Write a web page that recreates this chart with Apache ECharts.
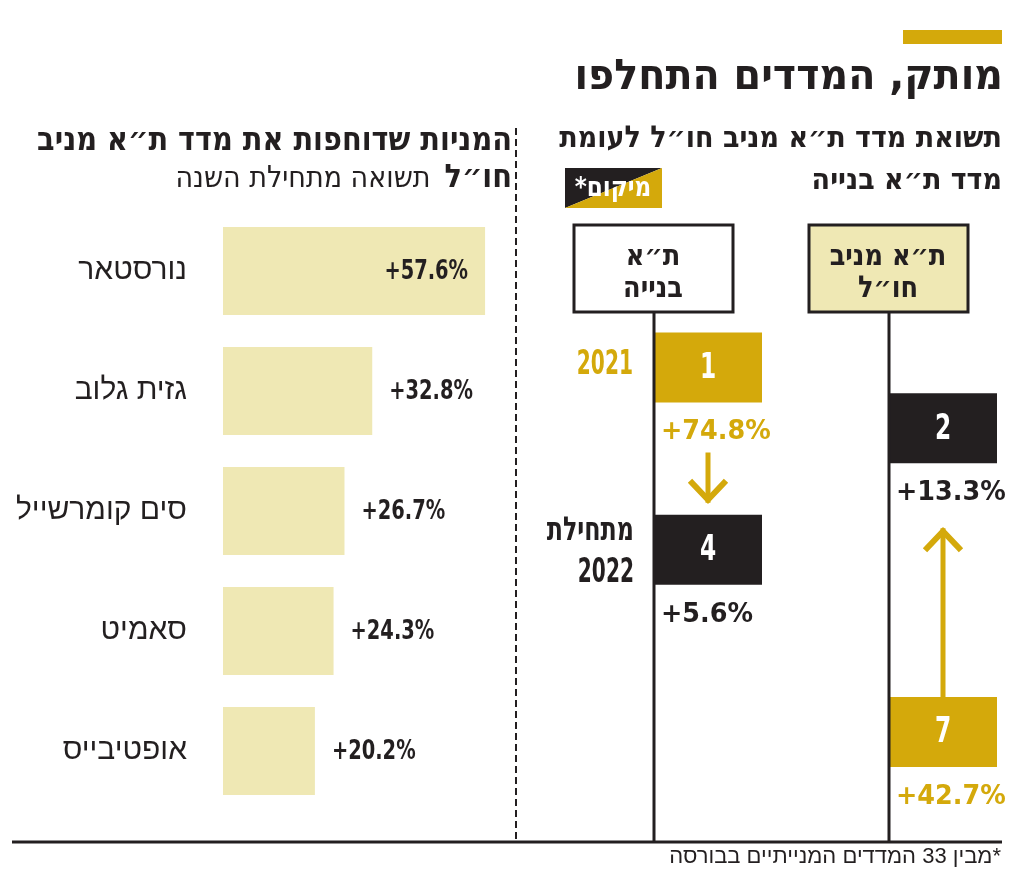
<!DOCTYPE html>
<html><head><meta charset="utf-8">
<script src="https://cdn.jsdelivr.net/npm/echarts@6/dist/echarts.min.js"></script>
<style>html,body{margin:0;padding:0;background:#fff}#c{width:1024px;height:877px}</style>
</head><body><div id="c"></div>
<script>
// ---- data ----
const barCategories = ['נורסטאר', 'גזית גלוב', 'סים קומרשייל', 'סאמיט', 'אופטיבייס'];
const barValues = [57.6, 32.8, 26.7, 24.3, 20.2];
const indexNames = ['ת״א\nבנייה', 'ת״א מניב\nחו״ל'];
const rank2021 = [1, 7];
const rank2022 = [4, 2];
const return2021 = [74.8, 42.7];
const return2022 = [5.6, 13.3];
const periodLabels = ['2021', 'מתחילת\n2022'];

// ---- styles ----
const GOLD = '#d4a90b', INK = '#231f20', BEIGE = '#efe8b4';
const HEB = '"DejaVu Sans Condensed", "DejaVu Sans", sans-serif';
const HEBR = '"Liberation Sans", "DejaVu Sans", sans-serif';
const GEO = '"DejaVu Sans", sans-serif';
const pct = v => '+' + v.toFixed(1) + '%';
const maxBar = Math.max(...barValues);

// text element helper (anchored at x,y, optional horizontal squeeze)
function txt(x, y, text, st, sx) {
  return {type: 'text', x: x, y: y, scaleX: sx || 1,
    style: Object.assign({text: text, x: 0, y: 0, verticalAlign: 'middle', fill: INK}, st)};
}

function renderBarLabels(params, api) {
  const v = api.value(0);
  const p = api.coord([v, api.value(1)]);
  const inside = v === maxBar;
  const el = txt(inside ? p[0] - 17 : p[0] + 17, p[1] + 1, pct(v),
    {align: inside ? 'right' : 'left', fontFamily: HEB, fontWeight: 'bold', fontSize: 27}, 0.8);
  el.z2 = 100;
  return el;
}

function renderDiagram(params, api) {
  const i = params.dataIndex;
  const col = api.value(0);
  const x0 = api.coord([col, 0])[0];
  const yA = api.coord([col, api.value(1)])[1];
  const yB = api.coord([col, api.value(2)])[1];
  const W = 108, H = 70;
  const cx = x0 + W / 2;
  const kids = [];
  // header box
  kids.push({type: 'rect', shape: {x: x0 - 80, y: 225, width: 159, height: 87},
    style: {fill: i === 1 ? BEIGE : '#fff', stroke: INK, lineWidth: 3}});
  kids.push(txt(x0 - 1, 273, indexNames[i], {align: 'center', fontFamily: HEB, fontWeight: 'bold',
    fontSize: 30, lineHeight: 32}, 0.95));
  // boxes
  [[yA, GOLD, api.value(1), api.value(3)], [yB, INK, api.value(2), api.value(4)]].forEach(([y, c, r, ret]) => {
    kids.push({type: 'rect', shape: {x: x0, y: y - H / 2, width: W, height: H}, style: {fill: c}});
    kids.push(txt(cx, y + 1, String(r), {align: 'center', fontFamily: HEB, fontWeight: 'bold', fontSize: 36, fill: '#fff'}, 0.72));
    kids.push(txt(x0 + 7, y + 65, pct(ret), {align: 'left', fontFamily: GEO, fontWeight: 'bold', fontSize: 26, fill: c}, 0.98));
  });
  // arrow from 2021 rank to 2022 rank
  let s, t, dir;
  if (yB > yA) { s = yA + 85; t = yB - 50; dir = 1; } else { s = yA - H / 2; t = yB + 103; dir = -1; }
  kids.push({type: 'line', shape: {x1: cx, y1: s, x2: cx, y2: t + dir * 3}, style: {stroke: GOLD, lineWidth: 5}});
  kids.push({type: 'polyline', shape: {points: [[cx - 18, t - dir * 19], [cx, t], [cx + 18, t - dir * 19]]},
    style: {stroke: GOLD, lineWidth: 6, fill: null}});
  // stem
  kids.push({type: 'line', shape: {x1: x0, y1: 312, x2: x0, y2: 842}, style: {stroke: INK, lineWidth: 3}});
  // period labels on first column
  if (i === 0) {
    const st = {align: 'right', fontFamily: HEB, fontWeight: 'bold', fontSize: 33};
    kids.push(txt(x0 - 21, yA - 2, periodLabels[0], Object.assign({}, st, {fill: GOLD}), 0.68));
    const lines = periodLabels[1].split('\n');
    lines.forEach((ln, k) => {
      kids.push(txt(x0 - 20, yB - 18 + k * 42, ln, st, /\d/.test(ln) ? 0.68 : 0.8));
    });
  }
  return {type: 'group', children: kids};
}

const chart = echarts.init(document.getElementById('c'), null, {renderer: 'canvas'});
chart.setOption({
  animation: false,
  backgroundColor: '#fff',
  grid: [
    {left: 223, top: 211, width: 273, height: 600},
    {left: 654, top: 306.75, width: 235, height: 486}
  ],
  xAxis: [
    {type: 'value', gridIndex: 0, min: 0, max: 60, show: false},
    {type: 'value', gridIndex: 1, min: 0, max: 1, show: false}
  ],
  yAxis: [
    {type: 'category', gridIndex: 0, data: barCategories, inverse: true,
      axisLine: {show: false}, axisTick: {show: false}, splitLine: {show: false},
      axisLabel: {margin: 36, fontFamily: HEBR, fontSize: 30, color: INK}},
    {type: 'value', gridIndex: 1, min: 0, max: 8, inverse: true, show: false}
  ],
  series: [
    {type: 'bar', xAxisIndex: 0, yAxisIndex: 0, barWidth: 88, z: 2, itemStyle: {color: BEIGE}, data: barValues},
    {type: 'custom', xAxisIndex: 0, yAxisIndex: 0, z: 5, clip: false, renderItem: renderBarLabels,
      data: barValues.map((v, i) => [v, i])},
    {type: 'custom', xAxisIndex: 1, yAxisIndex: 1, z: 5, clip: false, renderItem: renderDiagram,
      data: indexNames.map((n, i) => [i, rank2021[i], rank2022[i], return2021[i], return2022[i]])}
  ],
  graphic: [
    {type: 'rect', shape: {x: 903, y: 30, width: 99, height: 14}, style: {fill: GOLD}},
    txt(1003, 78, 'מותק, המדדים התחלפו', {align: 'right', fontFamily: HEB, fontWeight: 'bold', fontSize: 42}, 1.05),
    txt(512, 142, 'המניות שדוחפות את מדד ת״א מניב', {align: 'right', fontFamily: HEB, fontWeight: 'bold', fontSize: 32}),
    txt(512, 179, '{r|תשואה מתחילת השנה}{b|חו״ל}', {align: 'right',
      rich: {r: {fontFamily: HEB, fontSize: 30, fill: INK, fontWeight: 'normal', padding: [0, 14, 0, 0]},
             b: {fontFamily: HEB, fontSize: 32, fontWeight: 'bold', fill: INK}}}),
    txt(1002, 139, 'תשואת מדד ת״א מניב חו״ל לעומת', {align: 'right', fontFamily: HEB, fontWeight: 'bold', fontSize: 30}),
    txt(1002, 181, 'מדד ת״א בנייה', {align: 'right', fontFamily: HEB, fontWeight: 'bold', fontSize: 30}),
    {type: 'polygon', shape: {points: [[565, 168], [662, 168], [565, 208]]}, style: {fill: INK}},
    {type: 'polygon', shape: {points: [[662, 168], [662, 208], [565, 208]]}, style: {fill: GOLD}},
    txt(613, 189, '*מיקום', {align: 'center', fontFamily: HEB, fontWeight: 'bold', fontSize: 27, fill: '#fff'}, 0.95),
    {type: 'line', shape: {x1: 516, y1: 128, x2: 516, y2: 842}, style: {stroke: INK, lineWidth: 2, lineDash: [7, 4]}},
    {type: 'line', shape: {x1: 12, y1: 842, x2: 1002, y2: 842}, style: {stroke: INK, lineWidth: 3}},
    txt(1001, 857, 'מבין 33 המדדים המנייתיים בבורסה*', {align: 'right', fontFamily: HEBR, fontSize: 22})
  ]
});
</script></body></html>
